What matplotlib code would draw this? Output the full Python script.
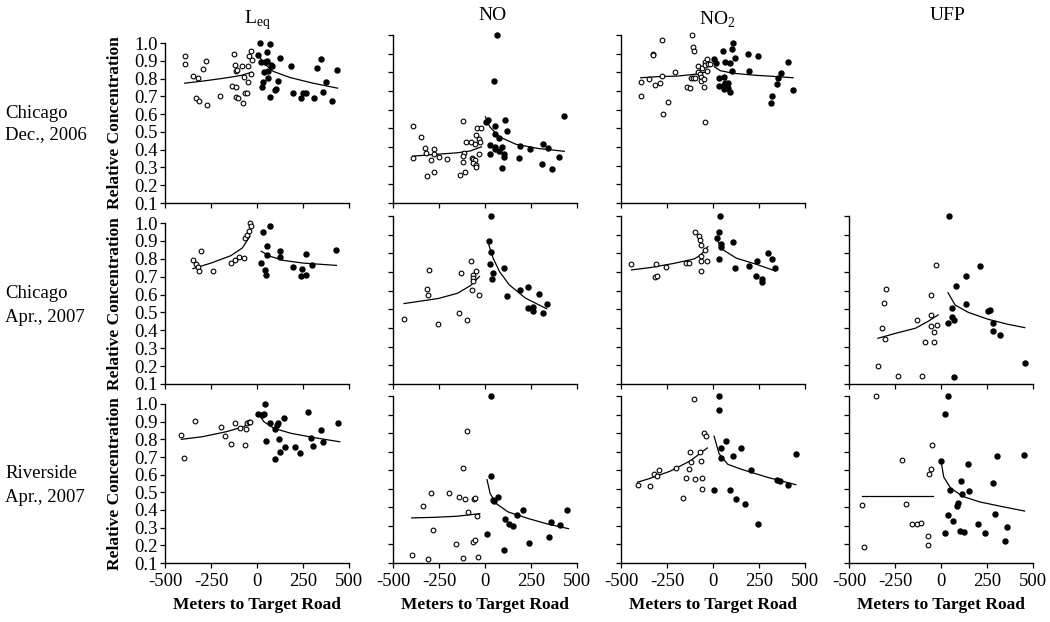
import matplotlib.pyplot as plt

plt.rcParams['font.family'] = ['Liberation Serif', 'DejaVu Serif']
plt.rcParams['mathtext.fontset'] = 'custom'
plt.rcParams['mathtext.rm'] = 'Liberation Serif'
plt.rcParams['axes.unicode_minus'] = False

# column titles, row labels, ticks
pollutants = ['L$_{\\mathrm{eq}}$', 'NO', 'NO$_2$', 'UFP']
campaigns = [('Chicago', 'Dec., 2006'), ('Chicago', 'Apr., 2007'), ('Riverside', 'Apr., 2007')]
x_ticks = [-500, -250, 0, 250, 500]
x_labels = ['-500', '-250', '0', '250', '500']
y_ticks = [0.1, 0.2, 0.3, 0.4, 0.5, 0.6, 0.7, 0.8, 0.9, 1.0]

# (meters, relative concentration); neg = open circles, pos = filled dots, fit = curves
# --- Chicago Dec 2006 ---
leq_dec06_neg = [(-393, .925), (-393, .883), (-348, .812), (-321, .802), (-277, .900), (-295, .855), (-334, .693),
                 (-316, .676), (-273, .652), (-202, .704), (-125, .940), (-121, .878), (-114, .840), (-107, .849),
                 (-138, .759), (-114, .755), (-116, .699), (-104, .689), (-80, .868), (-75, .665), (-68, .808),
                 (-63, .721), (-57, .721), (-50, .783), (-50, .872), (-41, .928), (-32, .953), (-27, .906), (-30, .827)]
leq_dec06_pos = [(14, 1.0), (5, .934), (21, .891), (30, .783), (27, .755), (36, .836), (45, .891), (54, .896),
                 (57, .947), (62, .802), (62, .840), (68, .995), (68, .699), (75, .878), (80, .868), (100, .736),
                 (104, .740), (112, .787), (125, .915), (187, .868), (196, .721), (241, .693), (250, .718),
                 (268, .718), (312, .693), (325, .859), (348, .910), (357, .723), (375, .783), (407, .676), (434, .849)]
leq_dec06_fit_neg = [(-393, .774), (-286, .787), (-179, .802), (-89, .817), (-27, .836)]
leq_dec06_fit_pos = [(5, .938), (36, .887), (89, .840), (179, .806), (304, .774), (438, .746)]

no_dec06_neg = [(-393, .515), (-350, .453), (-327, .394), (-320, .370), (-275, .390), (-278, .360), (-292, .333),
                (-252, .349), (-391, .342), (-204, .336), (-313, .243), (-275, .268), (-121, .540), (-104, .428),
                (-77, .428), (-114, .370), (-121, .352), (-118, .317), (-137, .252), (-106, .265), (-49, .465),
                (-42, .503), (-23, .504), (-53, .415), (-32, .442), (-28, .429), (-32, .363), (-72, .342),
                (-63, .335), (-55, .329), (-63, .315), (-49, .304), (-49, .292)]
no_dec06_pos = [(65, 1.0), (49, .753), (4, .533), (16, .547), (107, .547), (55, .512), (55, .469), (76, .449),
                (120, .485), (26, .411), (26, .361), (53, .401), (55, .390), (74, .377), (95, .401), (102, .360),
                (102, .347), (92, .290), (190, .408), (185, .342), (243, .390), (313, .415), (345, .395),
                (308, .311), (363, .281), (400, .347), (428, .565)]
no_dec06_fit_neg = [(-393, .351), (-273, .360), (-150, .369), (-79, .379), (-19, .401)]
no_dec06_fit_pos = [(2, .562), (26, .508), (79, .454), (167, .415), (290, .392), (431, .377)]

no2_dec06_neg = [(-393, .746), (-392, .675), (-346, .766), (-328, .898), (-324, .891), (-316, .734), (-289, .745),
                 (-275, .975), (-277, .782), (-247, .641), (-273, .579), (-205, .804), (-116, 1.0), (-109, .938),
                 (-102, .916), (-139, .720), (-127, .716), (-120, .770), (-108, .768), (-99, .771), (-79, .836),
                 (-79, .804), (-72, .791), (-67, .773), (-63, .755), (-49, .766), (-49, .723), (-58, .821),
                 (-44, .854), (-35, .873), (-41, .839), (-32, .807), (-26, .845), (-18, .846), (-44, .532)]
no2_dec06_pos = [(7, .871), (18, .848), (30, .771), (56, .916), (62, .777), (67, .854), (30, .727), (53, .727),
                 (60, .709), (65, .741), (70, .727), (74, .718), (81, .741), (81, .714), (94, .696), (94, .848),
                 (104, .923), (109, .959), (122, .879), (104, .805), (189, .898), (194, .809), (245, .888),
                 (406, .854), (369, .798), (353, .770), (348, .739), (435, .705), (319, .673), (314, .634)]
no2_dec06_fit_neg = [(-393, .771), (-298, .777), (-192, .780), (-86, .791), (-18, .807)]
no2_dec06_fit_pos = [(7, .830), (39, .809), (109, .795), (233, .784), (303, .780), (435, .771)]

# --- Chicago Apr 2007 ---
leq_apr07c_neg = [(-348, .795), (-330, .771), (-320, .754), (-313, .734), (-304, .842), (-241, .734), (-143, .775),
                  (-118, .791), (-100, .808), (-68, .804), (-63, .916), (-57, .935), (-43, .957), (-39, 1.0),
                  (-30, .985)]
leq_apr07c_pos = [(23, .776), (30, .948), (45, .739), (48, .711), (57, .873), (57, .823), (68, .981), (125, .842),
                  (125, .808), (193, .752), (246, .745), (241, .702), (264, .827), (268, .707), (300, .767),
                  (432, .847)]
leq_apr07c_fit_neg = [(-348, .745), (-250, .776), (-143, .817), (-80, .860), (-39, .925)]
leq_apr07c_fit_pos = [(23, .842), (71, .814), (143, .791), (250, .776), (432, .763)]

no_apr07c_neg = [(-440, .449), (-313, .608), (-308, .578), (-304, .711), (-255, .422), (-143, .478), (-132, .695),
                 (-100, .442), (-77, .761), (-65, .684), (-65, .670), (-67, .652), (-69, .604), (-49, .706),
                 (-33, .578)]
no_apr07c_pos = [(35, 1.0), (21, .865), (30, .809), (26, .745), (46, .695), (39, .663), (104, .720), (118, .570),
                 (190, .602), (236, .617), (231, .508), (259, .513), (261, .492), (296, .581), (315, .478),
                 (335, .528)]
no_apr07c_fit_neg = [(-440, .531), (-254, .558), (-150, .586), (-79, .627), (-30, .676)]
no_apr07c_fit_pos = [(21, .845), (44, .774), (79, .702), (132, .631), (220, .560), (335, .503)]

no2_apr07c_neg = [(-443, .743), (-317, .674), (-307, .679), (-309, .743), (-256, .729), (-145, .749), (-131, .749),
                  (-97, .916), (-78, .893), (-71, .872), (-63, .845), (-46, .816), (-63, .786), (-67, .759),
                  (-67, .706), (-32, .761)]
no2_apr07c_pos = [(39, 1.0), (33, .916), (23, .881), (44, .848), (42, .832), (30, .770), (107, .861), (122, .720),
                  (198, .734), (238, .761), (236, .681), (265, .661), (265, .645), (298, .804), (321, .770),
                  (339, .724)]
no2_apr07c_fit_neg = [(-443, .711), (-332, .725), (-208, .747), (-102, .770), (-67, .791), (-28, .836)]
no2_apr07c_fit_pos = [(21, .872), (56, .818), (127, .774), (233, .742), (339, .706)]

ufp_apr07c_neg = [(-343, .199), (-323, .402), (-309, .536), (-302, .342), (-298, .607), (-236, .141), (-132, .441),
                  (-105, .144), (-89, .327), (-57, .470), (-54, .578), (-52, .413), (-36, .379), (-36, .324),
                  (-29, .738), (-20, .416)]
ufp_apr07c_pos = [(43, 1.0), (36, .429), (61, .507), (61, .457), (71, .441), (68, .137), (80, .625), (136, .678),
                  (138, .527), (213, .730), (257, .491), (264, .496), (282, .425), (284, .384), (318, .365),
                  (455, .212)]
ufp_apr07c_fit_neg = [(-343, .345), (-245, .372), (-138, .399), (-66, .438), (-16, .470)]
ufp_apr07c_fit_pos = [(38, .589), (77, .523), (148, .484), (255, .447), (363, .420), (455, .402)]

# --- Riverside Apr 2007 ---
leq_apr07r_neg = [(-411, .824), (-398, .694), (-337, .904), (-198, .871), (-176, .820), (-143, .773), (-117, .890),
                  (-94, .866), (-63, .767), (-61, .856), (-56, .890), (-46, .896), (-37, .896)]
leq_apr07r_pos = [(6, .943), (28, .938), (37, .943), (43, 1.0), (50, .790), (70, .894), (96, .856), (98, .686),
                  (109, .883), (115, .894), (117, .801), (126, .730), (152, .758), (148, .919), (204, .754),
                  (235, .720), (278, .957), (291, .805), (306, .764), (346, .853), (357, .783), (441, .894)]
leq_apr07r_fit_neg = [(-411, .800), (-296, .815), (-167, .843), (-74, .871), (-24, .900)]
leq_apr07r_fit_pos = [(9, .943), (37, .900), (93, .862), (185, .834), (315, .809), (450, .786)]

no_apr07r_neg = [(-398, .145), (-337, .407), (-309, .123), (-296, .477), (-285, .276), (-194, .477), (-156, .201),
                 (-141, .456), (-120, .129), (-119, .612), (-111, .445), (-96, .813), (-93, .377), (-65, .213),
                 (-57, .224), (-59, .445), (-52, .452), (-44, .352), (-37, .132)]
no_apr07r_pos = [(33, 1.0), (9, .256), (33, .567), (44, .441), (48, .434), (70, .456), (102, .168), (111, .339),
                 (131, .308), (154, .298), (174, .359), (207, .384), (239, .210), (346, .238), (361, .319),
                 (406, .307), (448, .384)]
no_apr07r_fit_neg = [(-398, .343), (-281, .346), (-152, .352), (-28, .366)]
no_apr07r_fit_pos = [(11, .549), (28, .474), (61, .420), (126, .375), (237, .339), (348, .308), (454, .285)]

no2_apr07r_neg = [(-407, .520), (-343, .513), (-320, .578), (-304, .571), (-291, .603), (-202, .614), (-165, .450),
                  (-146, .558), (-133, .605), (-126, .698), (-120, .644), (-104, .986), (-98, .551), (-69, .698),
                  (-67, .648), (-59, .558), (-59, .499), (-50, .801), (-39, .783)]
no2_apr07r_pos = [(30, 1.0), (31, .925), (6, .493), (43, .718), (41, .666), (72, .757), (94, .495), (111, .675),
                  (126, .445), (152, .718), (172, .420), (204, .603), (243, .312), (348, .546), (363, .542),
                  (409, .522), (450, .689)]
no2_apr07r_fit_neg = [(-411, .535), (-346, .555), (-235, .594), (-124, .650), (-31, .720)]
no2_apr07r_fit_pos = [(6, .783), (33, .689), (80, .632), (154, .605), (302, .560), (450, .522)]

ufp_apr07r_neg = [(-428, .414), (-419, .188), (-353, 1.0), (-211, .653), (-191, .420), (-155, .308), (-129, .308),
                  (-107, .316), (-73, .246), (-73, .197), (-64, .580), (-56, .605), (-47, .738)]
ufp_apr07r_pos = [(36, 1.0), (24, .905), (2, .648), (24, .263), (37, .357), (47, .493), (64, .325), (88, .409),
                  (93, .425), (103, .274), (110, .544), (112, .470), (125, .265), (146, .632), (150, .488),
                  (200, .312), (239, .262), (280, .533), (293, .364), (305, .678), (348, .220), (361, .294),
                  (450, .680)]
ufp_apr07r_fit_neg = [(-428, .459), (-41, .459)]
ufp_apr07r_fit_pos = [(2, .639), (15, .563), (52, .504), (118, .459), (211, .429), (342, .402), (454, .380)]

panels = {
    (0, 0): (leq_dec06_neg, leq_dec06_pos, leq_dec06_fit_neg, leq_dec06_fit_pos),
    (0, 1): (no_dec06_neg, no_dec06_pos, no_dec06_fit_neg, no_dec06_fit_pos),
    (0, 2): (no2_dec06_neg, no2_dec06_pos, no2_dec06_fit_neg, no2_dec06_fit_pos),
    (1, 0): (leq_apr07c_neg, leq_apr07c_pos, leq_apr07c_fit_neg, leq_apr07c_fit_pos),
    (1, 1): (no_apr07c_neg, no_apr07c_pos, no_apr07c_fit_neg, no_apr07c_fit_pos),
    (1, 2): (no2_apr07c_neg, no2_apr07c_pos, no2_apr07c_fit_neg, no2_apr07c_fit_pos),
    (1, 3): (ufp_apr07c_neg, ufp_apr07c_pos, ufp_apr07c_fit_neg, ufp_apr07c_fit_pos),
    (2, 0): (leq_apr07r_neg, leq_apr07r_pos, leq_apr07r_fit_neg, leq_apr07r_fit_pos),
    (2, 1): (no_apr07r_neg, no_apr07r_pos, no_apr07r_fit_neg, no_apr07r_fit_pos),
    (2, 2): (no2_apr07r_neg, no2_apr07r_pos, no2_apr07r_fit_neg, no2_apr07r_fit_pos),
    (2, 3): (ufp_apr07r_neg, ufp_apr07r_pos, ufp_apr07r_fit_neg, ufp_apr07r_fit_pos),
}

W, H = 1050, 622
fig = plt.figure(figsize=(W / 100, H / 100), dpi=100)

# layout in pixels
col_left = [165, 393, 621, 849]
col_w = 184
row_bottom = [203, 384, 563]
row_top_first = [43, 223, 404]
row_top_other = [35, 216, 396]


def pxbox(x0, y_top, w, y_bot):
    return [x0 / W, 1 - y_bot / H, w / W, (y_bot - y_top) / H]


def unzip(pts):
    return [p[0] for p in pts], [p[1] for p in pts]


for r in range(3):
    for c in range(4):
        if (r, c) not in panels:
            continue
        top = row_top_first[r] if c == 0 else row_top_other[r]
        ax = fig.add_axes(pxbox(col_left[c], top, col_w, row_bottom[r]))
        neg, pos, fneg, fpos = panels[(r, c)]
        for f in (fneg, fpos):
            fx, fy = unzip(f)
            ax.plot(fx, fy, color='black', lw=0.9)
        nx, ny = unzip(neg)
        ax.plot(nx, ny, 'o', mfc='white', mec='black', ms=3.4, mew=0.8, clip_on=False, zorder=3)
        px, py = unzip(pos)
        ax.plot(px, py, 'o', color='black', ms=3.6, clip_on=False, zorder=3)

        ax.set_xlim(-500, 500)
        ax.set_ylim(0.1, 1.0)
        for s in ('top', 'right'):
            ax.spines[s].set_visible(False)
        for s in ('left', 'bottom'):
            ax.spines[s].set_linewidth(1.0)
        ax.set_xticks(x_ticks)
        ax.set_yticks(y_ticks)
        ax.tick_params(axis='both', direction='out', length=3.5, width=0.9, labelsize=13.5)
        ax.tick_params(axis='y', pad=1.5)
        ax.tick_params(axis='x', pad=4)
        if r == 2:
            ax.set_xticklabels(x_labels)
        else:
            ax.set_xticklabels([])
        if c == 0:
            ax.set_yticklabels(['%.1f' % v for v in y_ticks])
        else:
            ax.set_yticklabels([])

# column titles
title_pos = [(257, 20), (492, 16), (717, 20), (948, 16)]
for name, (x, y) in zip(pollutants, title_pos):
    fig.text(x / W, 1 - y / H, name, ha='center', va='center', fontsize=14)

# row labels and y labels
row_lbl_y = [(113, 135), (293, 317), (474, 498)]
for (l1, l2), (y1, y2) in zip(campaigns, row_lbl_y):
    fig.text(5 / W, 1 - y1 / H, l1, ha='left', va='center', fontsize=13.5)
    fig.text(5 / W, 1 - y2 / H, l2, ha='left', va='center', fontsize=13.5)

for r in range(3):
    yc = (row_top_first[r] + row_bottom[r]) / 2
    fig.text(115 / W, 1 - yc / H, 'Relative Concentration', rotation=90, ha='center', va='center',
             fontsize=12.5, fontweight='bold')

for c in range(4):
    fig.text((col_left[c] + col_w / 2) / W, 1 - 605 / H, 'Meters to Target Road', ha='center', va='center',
             fontsize=12.5, fontweight='bold')

fig.savefig('out.png', dpi=100)
